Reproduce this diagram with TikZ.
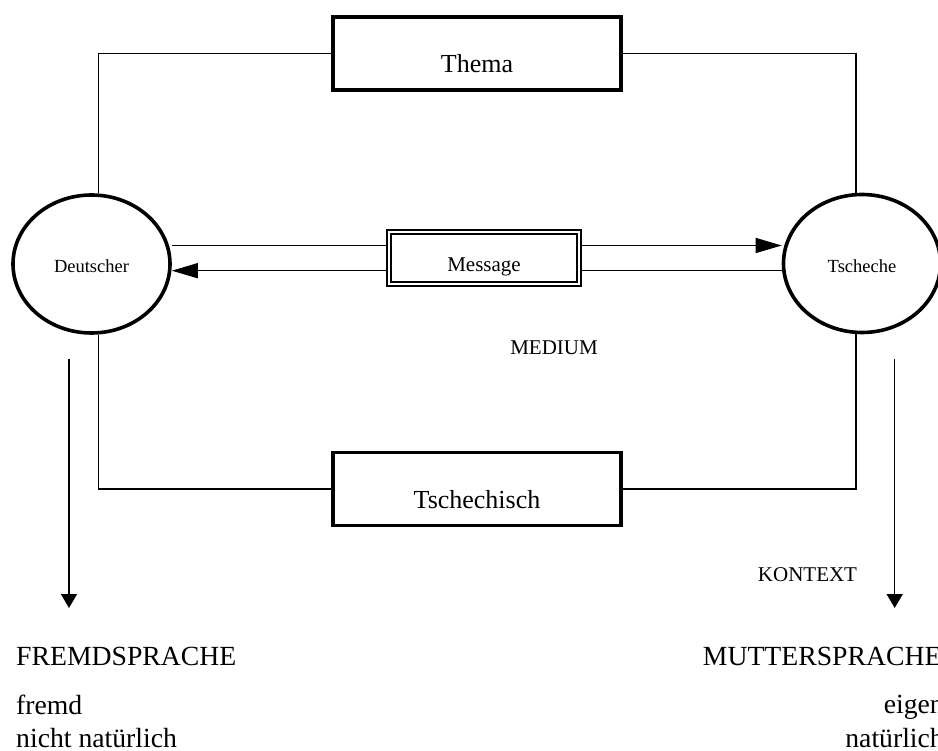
\documentclass[tikz,border=0pt]{standalone}
\usepackage{fontspec}
\setmainfont{Liberation Serif}
\usetikzlibrary{shapes.geometric,arrows.meta}

\begin{document}
\begin{tikzpicture}[
            x=1pt, y=-1pt,
            topic/.style={
                rectangle,
                draw=black,
                line width=3.8pt,
                minimum width=288pt,
                minimum height=73pt,
                text height=39pt,
                text depth=0pt,
                font=\fontsize{26}{30}\selectfont
            },
            person/.style={
                ellipse,
                draw=black,
                line width=3.6pt,
                inner sep=0pt,
                minimum width=157pt,
                minimum height=138pt,
                text height=18pt,
                text depth=0pt,
                font=\fontsize{18.5}{22}\selectfont
            },
            msgbox/.style={
                rectangle,
                draw=black,
                double,
                line width=1.5pt,
                double distance=2.6pt,
                minimum width=190pt,
                minimum height=52pt,
                text height=28pt,
                text depth=0pt,
                font=\fontsize{21}{25}\selectfont
            },
            small/.style={inner sep=0pt, anchor=base, font=\fontsize{21}{25}\selectfont},
            big/.style={inner sep=0pt, font=\fontsize{27.7}{32}\selectfont},
            line/.style={line width=1.5pt},
            arrow/.style={line width=1.5pt, -{Triangle[length=26pt,width=15pt]}},
            down/.style={line width=1.5pt, -{Triangle[length=14pt,width=16pt]}}
        ]
        \useasboundingbox (0,0) rectangle (938,751);
        \clip (0,0) rectangle (938,751);

        % Boxes and persons
        \node[topic] (thema) at (477,53.5) {Thema};
        \node[topic] (lang) at (477,489) {Tschechisch};
        \node[person] (deu) at (91.5,264) {Deutscher};
        \node[person] (tsch) at (862,263.5) {Tscheche};
        \node[msgbox] (msg) at (484,258) {Message};

        % Frame lines
        \draw[line] (thema.west) -| ([xshift=7pt]deu.north);
        \draw[line] (thema.east) -| ([xshift=-6pt]tsch.north);
        \draw[line] (lang.west) -| ([xshift=7pt]deu.south);
        \draw[line] (lang.east) -| ([xshift=-6pt]tsch.south);

        % Message lines
        \draw[line] ([yshift=12.5pt]msg.west) -- ([yshift=12.5pt]msg.west -| deu.east);
        \draw[arrow] ([yshift=-12.7pt]msg.west) -- ([yshift=-12.7pt]msg.west -| deu.east);
        \draw[arrow] ([yshift=12.5pt]msg.east) -- ([yshift=12.5pt]msg.east -| tsch.west);
        \draw[line] ([yshift=-12.7pt]msg.east) -- ([yshift=-12.7pt]msg.east -| tsch.west);

        % Side arrows
        \coordinate (fremdtop) at (69,359);
        \coordinate (fremdend) at (69,608);
        \coordinate (muttertop) at (894.7,359);
        \coordinate (mutterend) at (894.7,608);
        \draw[down] (fremdtop) -- (fremdend);
        \draw[down] (muttertop) -- (mutterend);

        % Labels
        \node[small] (medium) at (554,355) {MEDIUM};
        \node[small] (kontext) at (807.5,581.7) {KONTEXT};
        \node[big, anchor=base west] (fremdsprache) at (16,665.7) {FREMDSPRACHE};
        \node[big, anchor=base west] (fremd) at (16,714.3) {fremd};
        \node[big, anchor=base west] (nichtnat) at (16,747) {nicht natürlich};
        \node[big, anchor=base west] (muttersprache) at (702.7,665.7) {MUTTERSPRACHE};
        \node[big, anchor=base east] (eigen) at (944,713.3) {eigen};
        \node[big, anchor=base east] (natuerlich) at (944,747.5) {natürlich};

        \end{tikzpicture}
\end{document}
